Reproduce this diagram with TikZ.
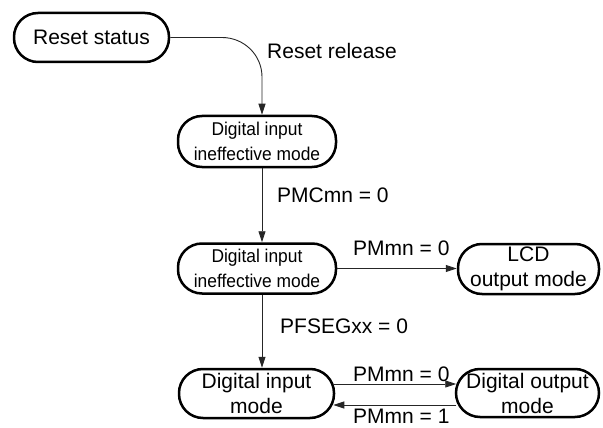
\documentclass[tikz,border=0pt]{standalone}
\usepackage{fontspec}
\setmainfont{Liberation Sans}
\newfontfamily\condfont[FakeStretch=0.94]{Liberation Sans}
\usetikzlibrary{arrows.meta,calc}
\begin{document}
\begin{tikzpicture}[x=1pt,y=-1pt,
  state/.style={draw=black,line width=2.5pt,rounded corners=24pt,inner sep=0pt,align=center,
    font=\fontsize{21}{25}\selectfont},
  condstate/.style={state,font=\condfont\fontsize{18.5}{25}\selectfont},
  conn/.style={line width=0.9pt,draw=black!85,-{Triangle[length=11pt,width=7pt]}},
  lbl/.style={inner sep=0pt,anchor=west,font=\fontsize{21}{25}\selectfont}]
\useasboundingbox (0,0) rectangle (603,428);
\fill[white] (0,0) rectangle (603,428);
% states
\node[state,minimum width=155pt,minimum height=49pt] (reset) at (91.5,37.5) {Reset status};
\node[condstate,minimum width=158pt,minimum height=51pt] (dii1) at (257,141.5) {Digital input\\ineffective mode};
\node[condstate,minimum width=158pt,minimum height=50pt] (dii2) at (257,268.5) {Digital input\\ineffective mode};
\node[state,minimum width=141pt,minimum height=50pt] (lcd) at (528.5,269) {LCD\\output mode};
\node[state,minimum width=155pt,minimum height=49pt] (di) at (256.5,393.5) {Digital input\\mode};
\node[state,minimum width=143pt,minimum height=48pt] (dout) at (527.5,393) {Digital output\\mode};
% helper coordinates
\coordinate (xa) at (262,0);
\coordinate (bend1) at (222,37.5);
\coordinate (bend2) at (262,77);
\coordinate (u1) at ($(di.east)+(-1.5,-9.5)$);
\coordinate (u2) at ($(dout.west)+(1.5,-9)$);
\coordinate (l1) at ($(dout.west)+(1.5,12)$);
\coordinate (l2) at ($(di.east)+(-2,11.5)$);
% connectors
\draw[conn] (reset.east) -- (bend1) to[out=0,in=90] (bend2) -- (xa |- dii1.north);
\draw[conn] (xa |- dii1.south) -- (xa |- dii2.north);
\draw[conn] (xa |- dii2.south) -- (xa |- di.north);
\draw[conn] (dii2.east) -- (dii2.east -| lcd.west);
\draw[conn] (u1) -- (u2);
\draw[conn] (l1) -- (l2);
% labels
\node[lbl] (t1) at (267,51) {Reset release};
\node[lbl] (t2) at (277,195) {PMCmn = 0};
\node[lbl] (t3) at (353,248) {PMmn = 0};
\node[lbl] (t4) at (280,326) {PFSEGxx = 0};
\node[lbl] (t5) at (353,374) {PMmn = 0};
\node[lbl] (t6) at (353,416) {PMmn = 1};
\end{tikzpicture}
\end{document}
